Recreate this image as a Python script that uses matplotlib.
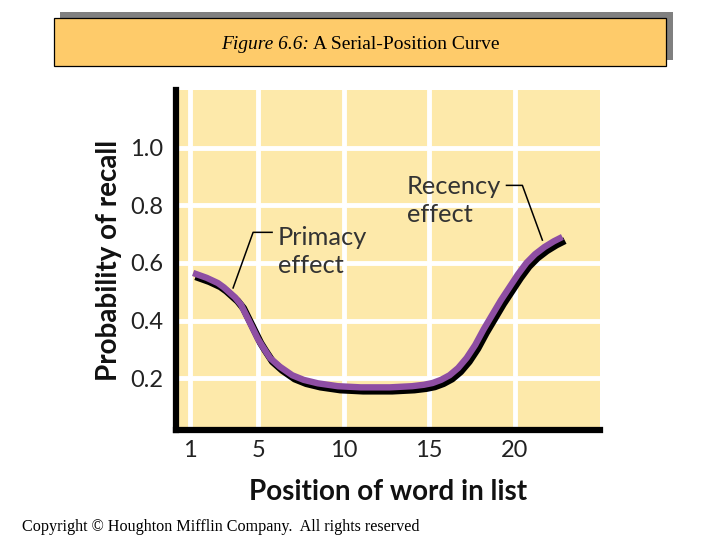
import matplotlib
matplotlib.use("Agg")
import matplotlib.pyplot as plt
import matplotlib.patheffects as pe
from matplotlib.patches import Rectangle

# --- DATA ---
positions = [1.2, 2, 2.65, 3, 3.66, 4, 4.46, 5, 5.26, 5.7, 6.27, 7, 7.67, 8.5,
             9.67, 11, 12.7, 14, 14.7, 15.2, 15.7, 16.2, 16.7, 17.2, 17.7,
             18.2, 18.7, 19.2, 19.7, 20.2, 20.7, 21.2, 21.75, 22.3, 22.8]
recall = [0.565, 0.548, 0.53, 0.515, 0.48, 0.455, 0.40, 0.335, 0.31, 0.27,
          0.24, 0.21, 0.194, 0.182, 0.172, 0.168, 0.168, 0.172, 0.177, 0.183,
          0.194, 0.21, 0.235, 0.27, 0.315, 0.37, 0.42, 0.47, 0.515, 0.56,
          0.60, 0.63, 0.655, 0.675, 0.69]
x_ticks = [1, 5, 10, 15, 20]
x_tick_labels = ["1", "5", "10", "15", "20"]
y_ticks = [0.2, 0.4, 0.6, 0.8, 1.0]
y_tick_labels = ["0.2", "0.4", "0.6", "0.8", "1.0"]

# annotation leaders: text end, elbow, point on curve
primacy_leader_x = [5.82, 4.71, 3.54]
primacy_leader_y = [0.706, 0.706, 0.513]
recency_leader_x = [19.53, 20.46, 21.63]
recency_leader_y = [0.869, 0.869, 0.679]

PURPLE = "#8e4ea3"
PANEL = "#fde9aa"
BOX = "#fecb6a"
SANS = ["Lato", "DejaVu Sans"]
SERIF = ["Liberation Serif", "DejaVu Serif"]

fig = plt.figure(figsize=(7.2, 5.4), dpi=100)
fig.patch.set_facecolor("white")

# title box with grey drop shadow
fig.patches.append(Rectangle((60 / 720, 1 - 60 / 540), 613 / 720, 48 / 540,
                             transform=fig.transFigure, facecolor="#808080",
                             edgecolor="none", zorder=0))
fig.patches.append(Rectangle((54 / 720, 1 - 66 / 540), 612 / 720, 48 / 540,
                             transform=fig.transFigure, facecolor=BOX,
                             edgecolor="black", linewidth=0.9, zorder=1))
# title in two parts (italic + roman), centred as a whole in the box
t1 = fig.text(0, 1 - 49 / 540, "Figure 6.6:", family=SERIF,
              style="italic", fontsize=14, va="baseline", ha="left", zorder=2)
t2 = fig.text(0, 1 - 49 / 540, "A Serial-Position Curve", family=SERIF,
              fontsize=14, va="baseline", ha="left", zorder=2)
fig.canvas.draw()
w1 = t1.get_window_extent().width
w2 = t2.get_window_extent().width
gap = 4
left = 360 - (w1 + gap + w2) / 2
t1.set_x(left / 720)
t2.set_x((left + w1 + gap) / 720)

ax = fig.add_axes([176 / 720, 1 - 430 / 540, 424 / 720, 340 / 540])
ax.set_facecolor(PANEL)
ax.set_xlim(0.2, 25)
ax.set_ylim(0.02, 1.2)

for s in ["top", "right"]:
    ax.spines[s].set_visible(False)
for s in ["left", "bottom"]:
    ax.spines[s].set_linewidth(4.5)
    ax.spines[s].set_color("black")
    ax.spines[s].set_capstyle("projecting")

ax.set_xticks(x_ticks)
ax.set_xticklabels(x_tick_labels)
ax.set_yticks(y_ticks)
ax.set_yticklabels(y_tick_labels)
ax.tick_params(length=0, labelsize=17, labelcolor="#222222")
ax.tick_params(axis="y", pad=9)
ax.tick_params(axis="x", pad=7)
for lab in ax.get_xticklabels() + ax.get_yticklabels():
    lab.set_family(SANS)

ax.grid(True, color="white", linewidth=3.5)
ax.set_axisbelow(True)

ax.set_xlabel("Position of word in list", family=SANS, fontsize=20,
              fontweight="bold", labelpad=13, color="#111111")
ax.set_ylabel("Probability of recall", family=SANS, fontsize=20,
              fontweight="bold", labelpad=6, color="#111111")

# the curve: purple stroke with a black shadow below-right
ax.plot(positions, recall, color=PURPLE, linewidth=4.6, solid_capstyle="butt",
        solid_joinstyle="round", zorder=4,
        path_effects=[pe.Stroke(offset=(1.8, -2.6), linewidth=5.2, foreground="black"),
                      pe.Normal()])

# annotations
ax.plot(primacy_leader_x, primacy_leader_y, color="black", linewidth=1.1, zorder=3)
ax.text(6.17, 0.64, "Primacy\neffect", family=SANS, fontsize=18.3,
        color="#333333", va="center", ha="left", linespacing=1.3)
ax.plot(recency_leader_x, recency_leader_y, color="black", linewidth=1.1, zorder=3)
ax.text(13.7, 0.817, "Recency\neffect", family=SANS, fontsize=18.3,
        color="#333333", va="center", ha="left", linespacing=1.3)

fig.text(22 / 720, 1 - 527 / 540,
         "Copyright \u00a9 Houghton Mifflin Company.  All rights reserved",
         family=SERIF, fontsize=11.6, va="center", ha="left")

fig.savefig("out.png", dpi=100)
